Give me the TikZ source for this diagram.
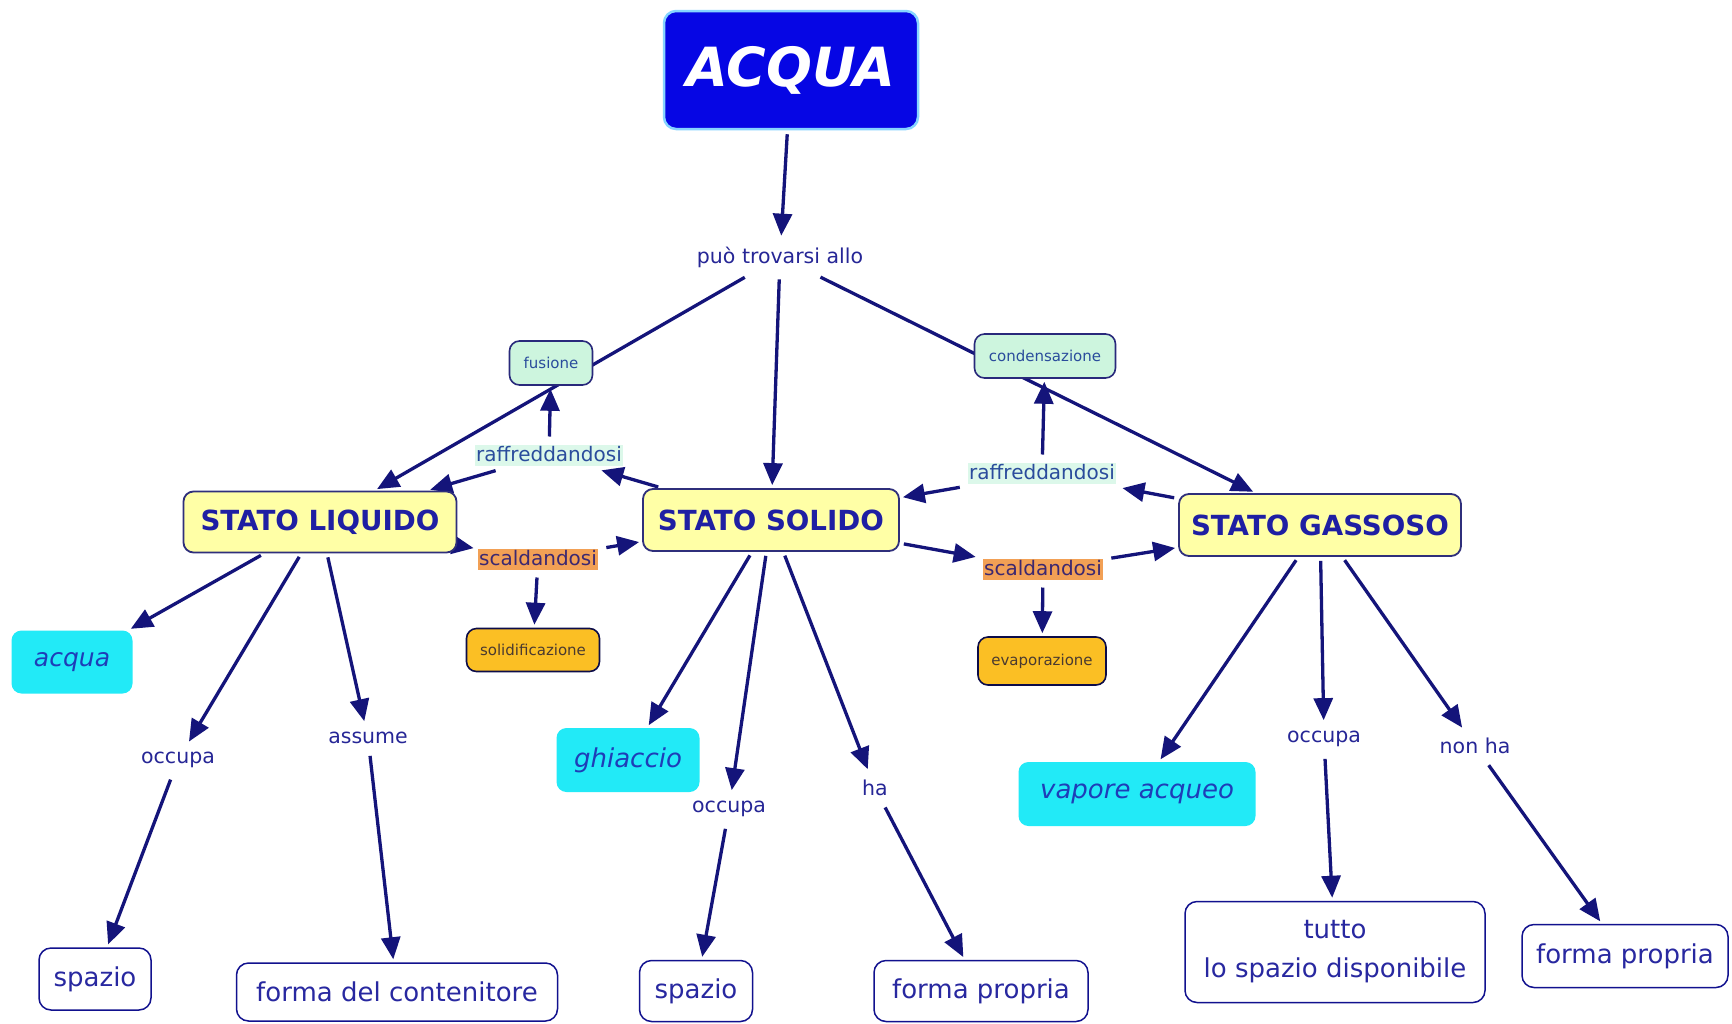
\documentclass[tikz,border=0pt]{standalone}
\usepackage{fontspec}
\setmainfont{DejaVu Sans}
\usetikzlibrary{arrows.meta,backgrounds}
\definecolor{navy}{HTML}{14147A}
\definecolor{acquablue}{HTML}{0606E4}
\definecolor{acquaedge}{HTML}{86D4FF}
\definecolor{statofill}{HTML}{FFFFA6}
\definecolor{statotext}{HTML}{1F1FA3}
\definecolor{mint}{HTML}{CDF5DE}
\definecolor{mintlight}{HTML}{DCF8EA}
\definecolor{minttext}{HTML}{2A4C9C}
\definecolor{orangebg}{HTML}{F2A055}
\definecolor{orangetext}{HTML}{3C2870}
\definecolor{goldfill}{HTML}{FBBF24}
\definecolor{goldtext}{HTML}{4A3A30}
\definecolor{cyanfill}{HTML}{22EAF7}
\definecolor{cyantext}{HTML}{1E3DB8}
\definecolor{boxtext}{HTML}{2828A0}
\definecolor{labeltext}{HTML}{262696}
\begin{document}
\begin{tikzpicture}[x=1pt,y=-1pt,
  conn/.style={draw=navy, line width=3.3pt, shorten <=4pt, shorten >=3pt},
  arr/.style={conn, -{Triangle[length=22pt,width=19pt]}},
  linklabel/.style={text=labeltext, font=\fontsize{20.5}{24}\selectfont, inner sep=5pt, outer sep=3pt},
  rootbox/.style={draw=acquaedge, line width=2.5pt, fill=acquablue, rounded corners=12pt, text=white,
    font=\bfseries\itshape\fontsize{54}{60}\selectfont, minimum width=254pt, minimum height=118pt, inner sep=0pt},
  statobox/.style={draw=navy!75!gray, line width=1.8pt, fill=statofill, rounded corners=10pt, text=statotext,
    font=\bfseries\fontsize{27.7}{32}\selectfont, minimum height=62pt, inner sep=0pt},
  changebox/.style={draw=navy!80!gray, line width=1.6pt, fill=mint, rounded corners=10pt, text=minttext,
    font=\fontsize{15}{18}\selectfont, minimum height=44pt, inner sep=0pt},
  resultbox/.style={draw=navy!60!black, line width=1.6pt, fill=goldfill, rounded corners=10pt, text=goldtext,
    font=\fontsize{15}{18}\selectfont, inner sep=0pt},
  coolbg/.style={fill=mintlight, text=minttext, font=\fontsize{20}{24}\selectfont, inner sep=1.5pt,
    text height=15pt, text depth=3pt, outer sep=4pt},
  heatbg/.style={fill=orangebg, text=orangetext, font=\fontsize{20}{24}\selectfont, inner sep=1.5pt,
    text height=15pt, text depth=3pt, outer sep=4pt},
  namebox/.style={fill=cyanfill, rounded corners=10pt, text=cyantext, font=\itshape\fontsize{26}{30}\selectfont,
    minimum height=64pt, inner sep=0pt},
  leafbox/.style={draw=navy!85!blue, line width=1.5pt, fill=white, rounded corners=12pt, text=boxtext,
    font=\fontsize{26}{39}\selectfont, inner sep=0pt, align=center}
]
\useasboundingbox (0,0) rectangle (1732,1023);

% top
\node[rootbox] (acqua) at (791,70) {ACQUA\hspace{22pt}};
\node[linklabel] (puo) at (780,257) {può trovarsi allo};

% changes of state
\node[changebox, minimum width=83pt] (fusione) at (551,363) {fusione};
\node[changebox, minimum width=141pt] (cond) at (1045,356) {condensazione};

% states
\node[statobox, minimum width=273pt, minimum height=61pt] (liq) at (320,522) {STATO LIQUIDO};
\node[statobox, minimum width=256pt] (sol) at (771,520) {STATO SOLIDO};
\node[statobox, minimum width=282pt] (gas) at (1320,525) {STATO GASSOSO};

% transition labels
\node[coolbg] (raffL) at (549,455) {raffreddandosi};
\node[coolbg] (raffR) at (1042,473) {raffreddandosi};
\node[heatbg] (scalL) at (538,559) {scaldandosi};
\node[heatbg] (scalR) at (1043,569) {scaldandosi};

\node[resultbox, minimum width=133pt, minimum height=43pt] (solid) at (533,650) {solidificazione};
\node[resultbox, minimum width=128pt, minimum height=48pt] (evap) at (1042,661) {evaporazione};

% names
\node[namebox, minimum width=121pt, minimum height=63pt, font=\itshape\fontsize{25}{30}\selectfont] (acq) at (72,662) {acqua};
\node[namebox, minimum width=143pt] (ghi) at (628,760) {ghiaccio};
\node[namebox, minimum width=237pt] (vap) at (1137,794) {vapore acqueo};

% link phrases
\node[linklabel] (occL) at (178,760) {occupa};
\node[linklabel] (ass) at (368,738) {assume};
\node[linklabel] (occM) at (729,809) {occupa};
\node[linklabel] (ha) at (875,788) {ha};
\node[linklabel] (occR) at (1324,739) {occupa};
\node[linklabel] (nonha) at (1475,746) {non ha};

% leaves
\node[leafbox, minimum width=112pt, minimum height=62pt] (spL) at (95,979) {spazio};
\node[leafbox, minimum width=321pt, minimum height=58pt] (cont) at (397,992) {forma del contenitore};
\node[leafbox, minimum width=113pt, minimum height=61pt] (spM) at (696,991) {spazio};
\node[leafbox, minimum width=214pt, minimum height=61pt] (fpM) at (981,991) {forma propria};
\node[leafbox, minimum width=300pt, minimum height=101pt] (tutto) at (1335,952) {tutto\\lo spazio disponibile};
\node[leafbox, minimum width=206pt, minimum height=63pt] (fpR) at (1625,956) {forma propria};

\begin{scope}[on background layer]
\fill[white] (0,0) rectangle (1732,1023);
\draw[arr] (acqua) -- (puo);
\draw[arr] (puo) -- (liq);
\draw[arr] (puo) -- (sol);
\draw[arr] (puo) -- (gas);
\draw[arr] (sol) -- (raffL);
\draw[arr] (raffL) -- (fusione);
\draw[arr] (raffL) -- (liq);
\draw[arr, shorten <=0pt, shorten >=0pt] (liq) -- (scalL);
\draw[arr] (scalL) -- (sol);
\draw[arr] (scalL) -- (solid);
\draw[arr] (gas) -- (raffR);
\draw[arr] (raffR) -- (cond);
\draw[arr] (raffR) -- (sol);
\draw[arr] (sol) -- (scalR);
\draw[arr] (scalR) -- (gas);
\draw[arr] (scalR) -- (evap);
\draw[arr] (liq) -- (acq);
\draw[arr] (liq) -- (occL);
\draw[arr] (occL) -- (spL);
\draw[arr] (liq) -- (ass);
\draw[arr] (ass) -- (cont);
\draw[arr] (sol) -- (ghi);
\draw[arr] (sol) -- (occM);
\draw[arr] (occM) -- (spM);
\draw[arr] (sol) -- (ha);
\draw[arr] (ha) -- (fpM);
\draw[arr] (gas) -- (vap);
\draw[arr] (gas) -- (occR);
\draw[arr] (occR) -- (tutto);
\draw[arr] (gas) -- (nonha);
\draw[arr] (nonha) -- (fpR);
\end{scope}
\end{tikzpicture}
\end{document}
